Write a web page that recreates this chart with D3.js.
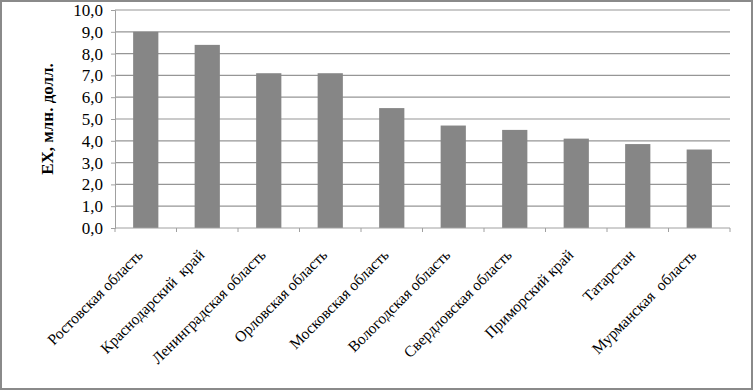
<!DOCTYPE html>
<html lang="ru">
<head>
<meta charset="utf-8">
<title>EX</title>
<script src="https://cdn.jsdelivr.net/npm/d3@7"></script>
<style>
  body { margin: 0; background: #fff; }
</style>
</head>
<body>
<script>
// data
var regions = ["Ростовская область", "Краснодарский  край", "Ленинградская область", "Орловская область",
  "Московская область", "Вологодская область", "Свердловская область", "Приморский край",
  "Татарстан", "Мурманская  область"];
var values = [9.0, 8.4, 7.1, 7.1, 5.5, 4.7, 4.5, 4.1, 3.85, 3.6];
var yTicks = [0, 1, 2, 3, 4, 5, 6, 7, 8, 9, 10];

var width = 754, height = 391;
var serif = "Liberation Serif";
var svg = d3.select("body").append("svg")
  .attr("width", width)
  .attr("height", height);

// outer frame
svg.append("rect")
  .attr("x", 1).attr("y", 1)
  .attr("width", width - 3).attr("height", height - 3)
  .attr("fill", "#fff")
  .attr("stroke", "#8a8a8a")
  .attr("stroke-width", 2);

var plotL = 115, plotR = 730, plotT = 10, plotB = 228;

var x = d3.scaleBand().domain(regions).range([plotL, plotR]).paddingInner(0.59).paddingOuter(0.295);
var y = d3.scaleLinear().domain([0, 10]).range([plotB, plotT]);

// gridlines
svg.append("g").selectAll("line")
  .data(yTicks.slice(1))
  .join("line")
  .attr("x1", plotL).attr("x2", plotR)
  .attr("y1", d => y(d)).attr("y2", d => y(d))
  .attr("stroke", "#969696")
  .attr("stroke-width", 1.2);

// bars
svg.append("g").selectAll("rect")
  .data(values)
  .join("rect")
  .attr("x", (d, i) => x(regions[i]))
  .attr("y", d => y(d))
  .attr("width", x.bandwidth())
  .attr("height", d => y(0) - y(d))
  .attr("fill", "#868686");

// y axis
var yAxis = svg.append("g")
  .attr("transform", `translate(${plotL},0)`)
  .call(d3.axisLeft(y).tickValues(yTicks).tickSize(4).tickPadding(8)
    .tickFormat(d => d3.format(".1f")(d).replace(".", ",")));
yAxis.selectAll("path, line").attr("stroke", "#a0a0a0");
yAxis.selectAll("text")
  .attr("font-family", serif)
  .style("font-family", serif)
  .attr("font-size", 17)
  .attr("fill", "#000");

// x axis (ticks between categories)
var xs = d3.scaleLinear().domain([0, regions.length]).range([plotL, plotR]);
svg.append("line")
  .attr("x1", plotL).attr("x2", plotR)
  .attr("y1", plotB).attr("y2", plotB)
  .attr("stroke", "#a0a0a0");
svg.append("g").selectAll("line")
  .data(d3.range(regions.length + 1))
  .join("line")
  .attr("x1", d => xs(d)).attr("x2", d => xs(d))
  .attr("y1", plotB).attr("y2", plotB + 4)
  .attr("stroke", "#a0a0a0");

// category labels
svg.append("g").selectAll("text")
  .data(regions)
  .join("text")
  .attr("transform", d => `translate(${x(d) + x.bandwidth() / 2 - 2},${plotB + 28}) rotate(-45)`)
  .attr("text-anchor", "end")
  .attr("font-family", serif)
  .style("font-family", serif)
  .attr("font-size", 15.5)
  .style("white-space", "pre")
  .text(d => d);

// y title
svg.append("text")
  .attr("transform", `translate(53,${(plotT + plotB) / 2}) rotate(-90)`)
  .attr("text-anchor", "middle")
  .attr("font-family", serif)
  .style("font-family", serif)
  .attr("font-size", 17)
  .attr("font-weight", "bold")
  .text("EX, млн. долл.");
</script>
</body>
</html>
